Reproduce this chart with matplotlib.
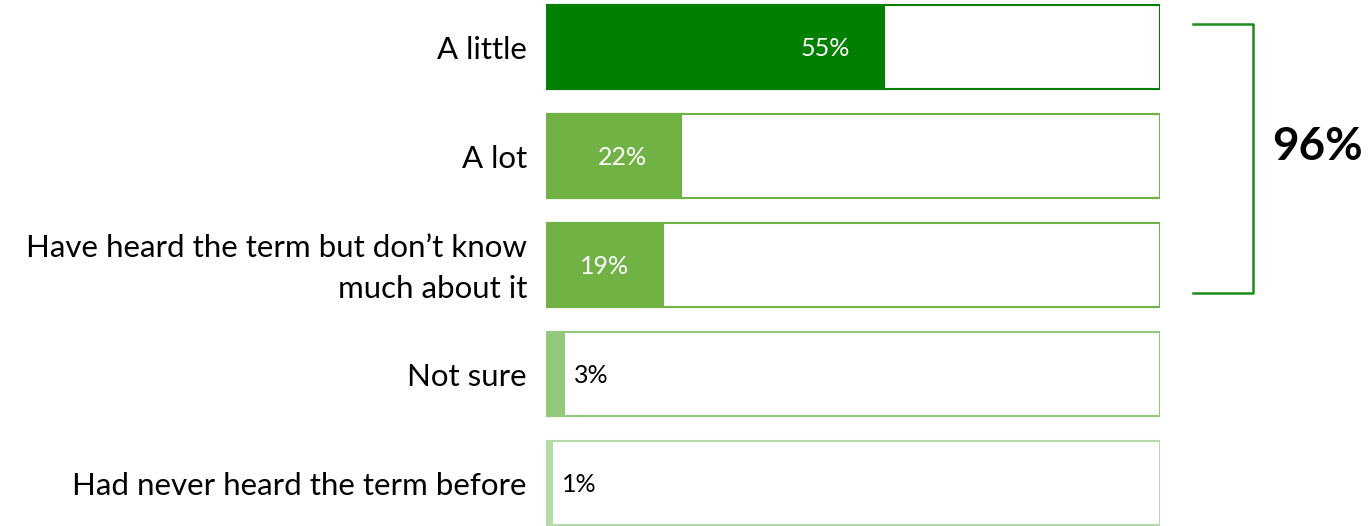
import matplotlib.pyplot as plt
from matplotlib.patches import Rectangle

categories = ["A little", "A lot", "Have heard the term but don\u2019t know\nmuch about it",
              "Not sure", "Had never heard the term before"]
values = [55, 22, 19, 3, 1]
value_labels = ["55%", "22%", "19%", "3%", "1%"]
colors = ["#008000", "#70B244", "#70B244", "#92C97A", "#B5DBA8"]
total_label = "96%"

plt.rcParams['font.family'] = ['Lato', 'DejaVu Sans']

fig = plt.figure(figsize=(13.68, 5.26), dpi=100)
ax = fig.add_axes([546 / 1368, 0, 614 / 1368, 1])
ax.set_xlim(0, 100)
ax.set_ylim(4.394, -0.431)
ax.axis("off")

h = 0.77
for i, (cat, v, lab, col) in enumerate(zip(categories, values, value_labels, colors)):
    # outline box (100%) and the filled share
    ax.add_patch(Rectangle((0, i - h / 2), 100, h, facecolor="white", edgecolor=col, lw=1.5))
    ax.barh(i, v, height=h, color=col, edgecolor=col, lw=1.5)
    ax.text(-3.1, i + 0.03, cat, ha="right", va="center", fontsize=22.5, color="black",
            linespacing=1.55)
    if v >= 10:
        ax.text(v - 5.5, i + 0.01, lab, ha="right", va="center", fontsize=18, color="white")
    else:
        ax.text(v + 1.6, i + 0.01, lab, ha="left", va="center", fontsize=18, color="black")

# bracket around the first three rows
bx0, bx1 = 105.4, 115.1
top, bot = -0.21, 2.257
ax.plot([bx0, bx1, bx1, bx0], [top, top, bot, bot], color="#1E8C1E", lw=1.8, clip_on=False)
ax.text(118.2, (top + bot) / 2 - 0.11, total_label, ha="left", va="center",
        fontsize=33, fontweight="bold", color="black", clip_on=False)

fig.savefig("out.png", dpi=100)
